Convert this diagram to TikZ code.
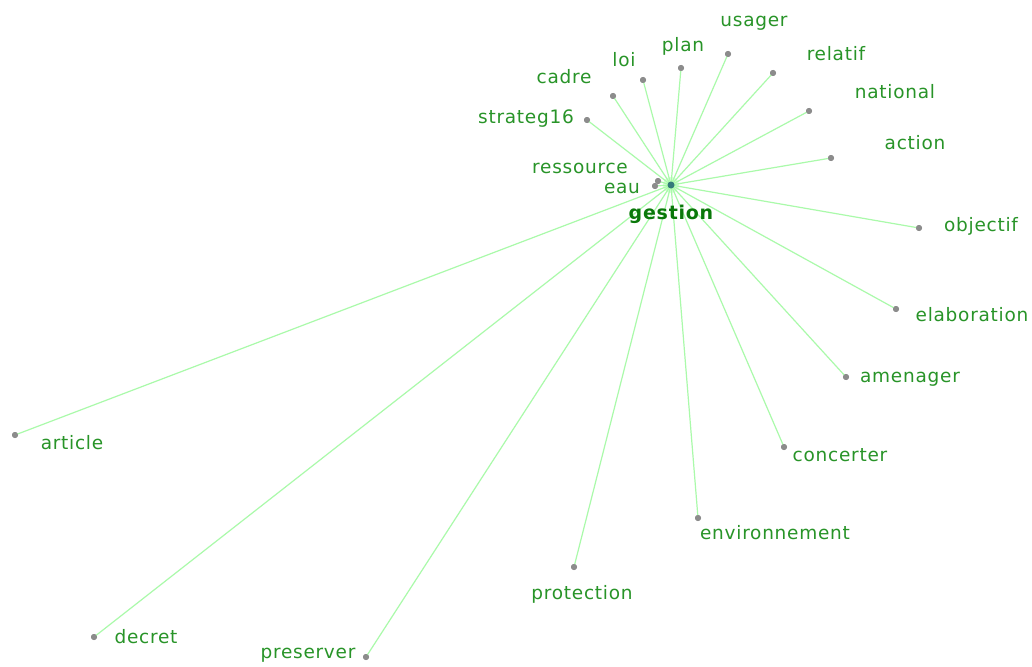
\documentclass[tikz,border=0pt]{standalone}
\usepackage{fontspec}
\setmainfont{DejaVu Sans}
\newfontfamily\lblfont[LetterSpace=4]{DejaVu Sans}
\definecolor{lblgreen}{RGB}{40,148,40}
\definecolor{hubgreen}{RGB}{10,120,10}
\definecolor{edgegreen}{RGB}{170,250,170}
\begin{document}
\begin{tikzpicture}[x=1pt,y=-1pt,
  dotnode/.style={circle,fill=gray!90,inner sep=0pt,minimum size=6pt},
  hubnode/.style={circle,fill=teal!70!black!80,inner sep=0pt,minimum size=7pt},
  lbl/.style={text=lblgreen,font=\lblfont\fontsize{18.5}{18.5}\selectfont,inner sep=0pt},
  hublbl/.style={text=hubgreen,font=\lblfont\fontsize{19}{19}\selectfont\bfseries,inner sep=0pt},
  edge/.style={draw=edgegreen,line width=1.2pt}]
\useasboundingbox (0,0) rectangle (1032,666);
\fill[white] (0,0) rectangle (1032,666);
\fill[green!25,opacity=0.6] (671,185) circle (8);
% dots
\node[dotnode] (ressource) at (658,181) {};
\node[dotnode] (eau) at (655,186) {};
\node[dotnode] (strateg16) at (587,120) {};
\node[dotnode] (cadre) at (613,96) {};
\node[dotnode] (loi) at (643,80) {};
\node[dotnode] (plan) at (681,68) {};
\node[dotnode] (usager) at (728,54) {};
\node[dotnode] (relatif) at (773,73) {};
\node[dotnode] (national) at (809,111) {};
\node[dotnode] (action) at (831,158) {};
\node[dotnode] (objectif) at (919,228) {};
\node[dotnode] (elaboration) at (896,309) {};
\node[dotnode] (amenager) at (846,377) {};
\node[dotnode] (concerter) at (784,447) {};
\node[dotnode] (environnement) at (698,518) {};
\node[dotnode] (protection) at (574,567) {};
\node[dotnode] (preserver) at (366,657) {};
\node[dotnode] (decret) at (94,637) {};
\node[dotnode] (article) at (15,435) {};
\coordinate (gc) at (671,185);
% edges
\foreach \n in {ressource,eau,strateg16,cadre,loi,plan,usager,relatif,national,action,objectif,elaboration,amenager,concerter,environnement,protection,preserver,decret,article}
  \draw[edge] (gc) -- (\n.center);
\foreach \n in {ressource,eau,strateg16,cadre,loi,plan,usager,relatif,national,action,objectif,elaboration,amenager,concerter,environnement,protection,preserver,decret,article}
  \node[dotnode] at (\n.center) {};
\node[hubnode] (gestion) at (gc) {};
% labels
\node[hublbl] (gestionlbl) at (671,214) {gestion};
\node[lbl] (lressource) at (580,168) {ressource};
\node[lbl] (leau) at (622,188) {eau};
\node[lbl] (lstrateg16) at (526,119) {strateg16};
\node[lbl] (lcadre) at (564,77) {cadre};
\node[lbl] (lloi) at (624,60) {loi};
\node[lbl] (lplan) at (683,46) {plan};
\node[lbl] (lusager) at (754,23) {usager};
\node[lbl] (lrelatif) at (836,54) {relatif};
\node[lbl] (lnational) at (895,92) {national};
\node[lbl] (laction) at (915,143) {action};
\node[lbl] (lobjectif) at (981,226) {objectif};
\node[lbl] (lelaboration) at (972,315) {elaboration};
\node[lbl] (lamenager) at (910,379) {amenager};
\node[lbl] (lconcerter) at (840,455) {concerter};
\node[lbl] (lenvironnement) at (775,533) {environnement};
\node[lbl] (lprotection) at (582,594) {protection};
\node[lbl] (lpreserver) at (308,655) {preserver};
\node[lbl] (ldecret) at (146,637) {decret};
\node[lbl] (larticle) at (72,443) {article};
\end{tikzpicture}
\end{document}
